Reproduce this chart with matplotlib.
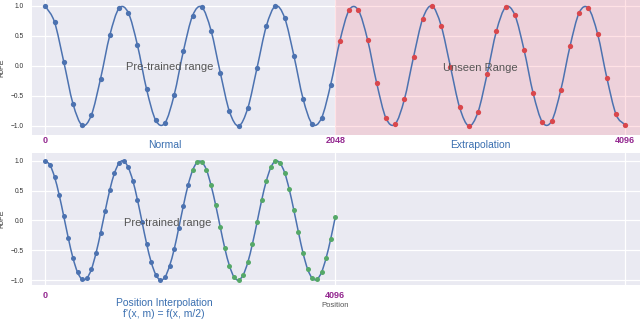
import numpy as np
import matplotlib
matplotlib.use("Agg")
import matplotlib.pyplot as plt
import seaborn as sns
from matplotlib.path import Path
from matplotlib.patches import PathPatch

# -------------------------------------------------------------------------
# Data read from the reference (RoPE value at each sampled position)
# Top panel: one sample per step, positions 0..63 (0 -> 4096)
TOP_VALUES = [
    1.00, 0.73, 0.07, -0.63, -0.99, -0.82, -0.21, 0.51,
    0.96, 0.89, 0.35, -0.39, -0.91, -0.95, -0.48, 0.25,
    0.84, 0.98, 0.59, -0.11, -0.76, -1.00, -0.70, -0.03,
    0.66, 1.00, 0.80, 0.17, -0.55, -0.97, -0.87, -0.31,
    0.42, 0.93, 0.93, 0.44, -0.29, -0.87, -0.97, -0.56,
    0.15, 0.79, 1.00, 0.67, -0.01, -0.69, -1.00, -0.77,
    -0.13, 0.58, 0.98, 0.85, 0.27, -0.46, -0.94, -0.92,
    -0.40, 0.33, 0.89, 0.96, 0.53, -0.20, -0.81, -0.99,
]
TOP_SPLIT = 32  # first extrapolated sample (red)

# Bottom panel: half steps, positions 0..31.5 (interpolated into 0 -> 4096)
BOTTOM_VALUES = [
    1.00, 0.93, 0.73, 0.43, 0.07, -0.30, -0.63, -0.87,
    -0.99, -0.97, -0.82, -0.55, -0.21, 0.16, 0.51, 0.79,
    0.96, 1.00, 0.89, 0.67, 0.35, -0.02, -0.39, -0.70,
    -0.91, -1.00, -0.95, -0.76, -0.48, -0.12, 0.25, 0.59,
    0.84, 0.98, 0.98, 0.85, 0.59, 0.26, -0.11, -0.47,
    -0.76, -0.95, -1.00, -0.91, -0.70, -0.39, -0.03, 0.34,
    0.66, 0.89, 1.00, 0.96, 0.80, 0.52, 0.17, -0.20,
    -0.55, -0.82, -0.97, -0.99, -0.87, -0.63, -0.31, 0.06,
]
BOTTOM_SPLIT = 32  # first interpolated sample (green)
BOTTOM_STEP = 0.5

POS_LABELS = ["0", "2048", "4096"]
POS_TICKS = [0, 31.5, 63]
Y_TICKS = [-1.0, -0.5, 0.0, 0.5, 1.0]

BLUE = "#4c72b0"
RED = "#d9474c"
GREEN = "#55a868"
PURPLE = "#93278f"
TXT_BLUE = "#3a6fb0"
GREY_TXT = "#555555"

sns.set_style("darkgrid")
plt.rcParams["font.family"] = ["Liberation Sans", "DejaVu Sans"]


def smooth_path(xs, ys):
    """Smooth curve through the samples (Catmull-Rom as bezier segments)"""
    pts = np.column_stack([xs, ys])
    p = np.vstack([2 * pts[0] - pts[1], pts, 2 * pts[-1] - pts[-2]])
    verts = [pts[0]]
    codes = [Path.MOVETO]
    for i in range(1, len(p) - 2):
        c1 = p[i] + (p[i + 1] - p[i - 1]) / 6
        c2 = p[i + 1] - (p[i + 2] - p[i]) / 6
        verts += [c1, c2, p[i + 1]]
        codes += [Path.CURVE4] * 3
    return Path(verts, codes)


def style_axes(ax, ylim):
    ax.set_xlim(-1.45, 64.6)
    ax.set_ylim(*ylim)
    ax.set_xticks(POS_TICKS)
    ax.set_xticklabels([])
    ax.set_yticks(Y_TICKS)
    ax.set_yticklabels(["\u22121.0", "\u22120.5", "0.0", "0.5", "1.0"])
    ax.tick_params(axis="y", labelsize=4.8, pad=6, labelcolor="#333333", length=0)
    ax.tick_params(axis="x", length=0)
    ax.set_ylabel("RoPE", fontsize=5, color="#333333")
    ax.yaxis.set_label_coords(-0.043, 0.5)
    ax.grid(True, color="white", lw=0.9)
    for s in ax.spines.values():
        s.set_visible(False)


fig = plt.figure(figsize=(6.4, 3.21), dpi=100)
ax1 = fig.add_axes([0.05, 0.579, 0.95, 0.421])
ax2 = fig.add_axes([0.05, 0.112, 0.95, 0.411])

# -------------------------------------------------------------------------
# Top: normal + extrapolation
top_x = np.arange(len(TOP_VALUES))
top_y = np.array(TOP_VALUES)
style_axes(ax1, (-1.155, 1.10))
ax1.axvspan(POS_TICKS[1], 64.6, color="#ff6070", alpha=0.18, lw=0, zorder=1)
ax1.add_patch(PathPatch(smooth_path(top_x, top_y), fill=False, edgecolor=BLUE, lw=1.1, zorder=2))
ax1.plot(top_x[:TOP_SPLIT], top_y[:TOP_SPLIT], "o", color=BLUE, ms=3.8, mew=0, zorder=3)
ax1.plot(top_x[TOP_SPLIT:], top_y[TOP_SPLIT:], "o", color=RED, ms=3.8, mew=0, zorder=3)

ax1.text(13.55, -0.02, "Pre-trained range", fontsize=8, color=GREY_TXT, ha="center", va="center", zorder=4)
ax1.text(47.3, -0.04, "Unseen Range", fontsize=8, color=GREY_TXT, ha="center", va="center", zorder=4)

tr1 = ax1.get_xaxis_transform()
for xp, lab in zip(POS_TICKS, POS_LABELS):
    ax1.text(xp, -0.037, lab, transform=tr1, fontsize=6.5, fontweight="bold", color=PURPLE, ha="center", va="center")
ax1.text(12.95, -0.074, "Normal", transform=tr1, fontsize=7.5, color=TXT_BLUE, ha="center", va="center")
ax1.text(47.3, -0.074, "Extrapolation", transform=tr1, fontsize=7.5, color=TXT_BLUE, ha="center", va="center")

# -------------------------------------------------------------------------
# Bottom: position interpolation
bot_x = np.arange(len(BOTTOM_VALUES)) * BOTTOM_STEP
bot_y = np.array(BOTTOM_VALUES)
style_axes(ax2, (-1.084, 1.13))
ax2.add_patch(PathPatch(smooth_path(bot_x, bot_y), fill=False, edgecolor=BLUE, lw=1.1, zorder=2))
ax2.plot(bot_x[:BOTTOM_SPLIT], bot_y[:BOTTOM_SPLIT], "o", color=BLUE, ms=3.6, mew=0, zorder=3)
ax2.plot(bot_x[BOTTOM_SPLIT:], bot_y[BOTTOM_SPLIT:], "o", color=GREEN, ms=3.6, mew=0, zorder=3)

ax2.text(13.3, -0.05, "Pre-trained range", fontsize=8, color=GREY_TXT, ha="center", va="center", zorder=4)

tr2 = ax2.get_xaxis_transform()
ax2.text(0, -0.076, POS_LABELS[0], transform=tr2, fontsize=6.5, fontweight="bold", color=PURPLE, ha="center", va="center")
ax2.text(POS_TICKS[1], -0.076, POS_LABELS[2], transform=tr2, fontsize=6.5, fontweight="bold", color=PURPLE, ha="center", va="center")
ax2.text(POS_TICKS[1], -0.152, "Position", transform=tr2, fontsize=5.5, color=GREY_TXT, ha="center", va="center")
ax2.text(12.9, -0.139, "Position Interpolation", transform=tr2, fontsize=7.5, color=TXT_BLUE, ha="center", va="center")
ax2.text(12.9, -0.222, "f'(x, m) = f(x, m/2)", transform=tr2, fontsize=7.5, color=TXT_BLUE, ha="center", va="center")

fig.savefig("out.png", dpi=100)
